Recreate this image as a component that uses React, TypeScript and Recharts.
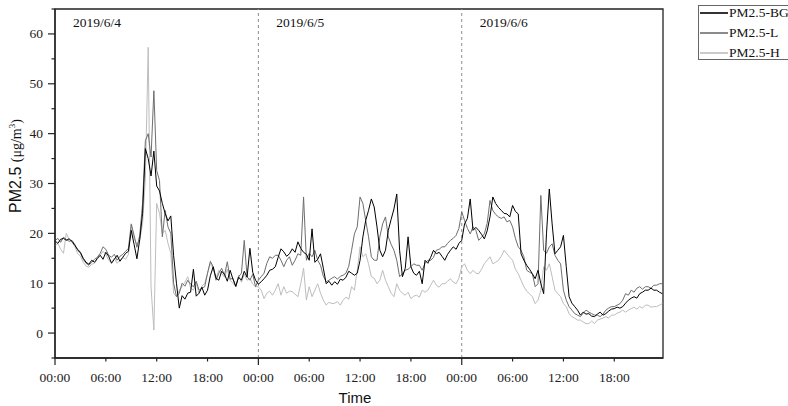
import { Line, LineChart, ReferenceArea, ReferenceLine, XAxis, YAxis } from "recharts";

const SERIF = "'Liberation Serif', 'Times New Roman', serif";
const SANS = "'Liberation Sans', Arial, sans-serif";

// sampling grid: 20-minute readings over three days
const STEP_HOURS = 1 / 3;
const X_MAX = 71.75;

const days = ["2019/6/4", "2019/6/5", "2019/6/6"];
const hourTicks = [0, 6, 12, 18, 24, 30, 36, 42, 48, 54, 60, 66];
const valueTicks = [-5, 0, 5, 10, 15, 20, 25, 30, 35, 40, 45, 50, 55, 60, 65];

const pm25BG = [
  18.5, 18.0, 18.8, 19.0, 18.6, 18.9, 18.4, 17.6, 16.8, 16.2, 15.0, 14.2, 13.8, 14.6, 14.2, 15.0, 15.6, 14.8,
  16.2, 15.4, 14.0, 14.8, 15.6, 14.4, 15.2, 16.0, 16.4, 20.6, 17.8, 14.9, 18.8, 24.0, 37.0, 35.0, 31.5, 36.5,
  29.5, 28.5, 26.0, 24.0, 22.5, 23.5, 15.5, 10.0, 5.0, 7.5, 6.8, 8.0, 8.2, 12.8, 7.4, 8.0, 9.2, 7.6,
  8.6, 11.5, 13.3, 11.0, 10.6, 12.4, 11.8, 10.4, 12.6, 10.8, 9.4, 11.2, 10.6, 12.4, 11.2, 17.0, 12.2, 10.6,
  9.8, 10.3, 10.9, 11.6, 12.6, 12.8, 13.3, 15.2, 16.9, 16.3, 15.4, 15.9, 16.9, 16.2, 18.3, 17.0, 16.2, 15.8,
  14.6, 20.9, 14.2, 14.8, 15.9, 13.0, 9.9, 10.4, 9.6, 10.3, 9.8, 10.8, 10.6, 11.2, 12.4, 12.0, 11.6, 12.0,
  14.6, 19.3, 22.6, 24.6, 26.9, 25.3, 21.3, 16.6, 15.3, 16.6, 20.6, 22.8, 24.9, 27.9, 16.6, 11.3, 13.0, 19.3,
  13.3, 12.0, 11.6, 12.4, 9.9, 14.6, 14.0, 15.2, 16.6, 15.9, 16.2, 15.4, 14.6, 15.8, 16.6, 17.3, 16.8, 18.0,
  18.6, 21.9, 23.0, 26.9, 20.6, 21.2, 20.6, 19.8, 18.9, 20.5, 23.3, 27.3, 26.0, 25.2, 24.6, 24.0, 23.9, 23.3,
  25.6, 24.4, 23.9, 15.9, 14.6, 13.6, 12.8, 11.9, 10.9, 12.6, 9.9, 7.9, 19.9, 28.9, 21.9, 15.9, 16.6, 17.3,
  19.6, 13.3, 7.3, 6.0, 5.3, 4.6, 3.6, 4.2, 3.8, 3.9, 3.4, 3.3, 3.8, 4.2, 3.6, 3.9, 4.4, 4.8,
  4.9, 5.2, 5.0, 5.3, 6.0, 6.6, 7.0, 7.3, 7.0, 7.9, 8.2, 8.6, 8.6, 9.0, 8.6, 8.6, 8.2, 7.9,
];

const pm25L = [
  18.5, 19.0, 18.2, 19.2, 18.8, 18.4, 18.6, 17.8, 16.6, 16.0, 14.8, 14.0, 13.6, 14.2, 14.8, 15.2, 16.0, 17.3,
  16.8, 15.6, 15.2, 15.8, 14.6, 15.4, 15.8, 16.4, 17.0, 21.9, 19.6, 17.2, 19.6, 26.0, 38.6, 40.0, 35.3, 48.6,
  32.6, 30.6, 19.3, 24.6, 21.3, 20.0, 10.0, 7.3, 8.0, 10.0, 9.4, 10.6, 9.8, 9.3, 10.4, 8.6, 9.0, 9.3,
  12.0, 14.4, 13.3, 10.6, 12.0, 13.0, 11.6, 14.3, 10.8, 11.0, 9.3, 11.3, 12.0, 18.6, 11.3, 10.6, 11.8, 9.3,
  10.6, 11.3, 12.0, 14.0, 15.3, 15.0, 15.6, 15.6, 14.6, 13.3, 14.6, 15.3, 13.6, 14.6, 15.9, 15.6, 27.3, 14.6,
  16.0, 15.3, 16.6, 14.6, 13.6, 11.4, 10.3, 10.6, 11.0, 11.3, 10.8, 11.4, 11.6, 12.0, 13.4, 16.6, 19.9, 21.3,
  27.3, 26.0, 22.6, 19.3, 15.3, 14.6, 14.6, 19.3, 21.9, 23.3, 19.3, 17.8, 16.6, 14.6, 11.3, 11.9, 12.6, 12.8,
  13.3, 13.9, 13.6, 13.6, 12.6, 14.0, 14.6, 14.6, 15.2, 16.6, 16.8, 17.3, 17.3, 18.0, 18.6, 19.0, 19.6, 21.0,
  24.3, 22.6, 21.0, 19.9, 21.3, 20.6, 18.6, 19.2, 19.9, 22.0, 26.6, 24.6, 23.8, 23.3, 23.0, 23.3, 22.3, 22.6,
  21.3, 19.0, 17.3, 16.6, 15.3, 12.6, 12.2, 11.9, 9.3, 9.9, 27.6, 16.6, 16.0, 17.3, 17.9, 15.6, 14.6, 13.9,
  8.6, 6.6, 5.3, 4.6, 3.9, 3.6, 3.3, 4.0, 4.6, 4.2, 3.9, 3.6, 3.6, 3.3, 3.8, 4.6, 5.0, 5.3,
  5.3, 5.6, 5.9, 6.6, 7.9, 7.6, 8.6, 8.2, 9.0, 9.3, 8.8, 9.3, 9.3, 9.0, 9.6, 9.6, 9.9, 9.9,
];

const pm25H = [
  17.5, 18.0, 16.8, 16.0, 20.0, 18.8, 18.2, 17.4, 16.0, 15.4, 14.2, 13.4, 13.2, 13.8, 14.0, 14.8, 15.6, 16.4,
  15.8, 14.6, 14.2, 15.0, 14.0, 14.6, 15.2, 14.8, 15.8, 21.6, 19.0, 17.8, 18.6, 22.0, 31.0, 57.3, 9.3, 0.6,
  26.0, 24.0, 20.0, 20.6, 18.0, 16.0, 8.0, 7.3, 8.6, 9.3, 10.2, 11.3, 9.0, 8.6, 10.0, 8.0, 9.4, 10.0,
  12.0, 14.0, 13.0, 11.0, 12.6, 12.0, 11.2, 12.8, 10.6, 10.0, 9.3, 11.6, 10.2, 11.8, 10.6, 11.0, 9.8, 9.3,
  9.3, 8.6, 6.9, 8.0, 8.4, 7.6, 8.6, 9.9, 7.6, 9.3, 8.0, 8.4, 8.3, 7.8, 7.3, 9.9, 13.0, 6.6,
  9.3, 7.3, 8.6, 9.9, 8.0, 6.6, 5.6, 6.2, 5.9, 6.0, 6.3, 5.6, 6.6, 7.2, 6.8, 9.3, 8.6, 12.6,
  17.3, 15.3, 15.9, 13.9, 11.3, 11.0, 9.9, 10.6, 12.6, 10.6, 9.3, 8.0, 7.3, 9.9, 8.6, 8.0, 7.6, 8.2,
  6.9, 7.4, 7.6, 7.2, 8.6, 8.2, 8.6, 9.6, 10.6, 9.6, 9.2, 9.9, 9.9, 10.4, 10.9, 10.2, 9.9, 11.0,
  13.3, 13.9, 12.6, 11.9, 12.6, 12.0, 11.9, 12.8, 13.9, 14.6, 15.3, 13.9, 14.2, 14.6, 15.4, 16.6, 15.9, 15.2,
  14.6, 12.8, 11.9, 10.6, 9.3, 8.4, 7.9, 7.3, 5.9, 6.6, 8.6, 13.3, 12.6, 13.9, 11.3, 8.6, 7.9, 7.3,
  5.9, 5.3, 3.9, 3.3, 3.0, 2.6, 2.6, 2.2, 1.9, 1.9, 2.4, 1.9, 2.6, 2.8, 3.0, 3.3, 3.0, 3.6,
  3.6, 4.0, 4.2, 4.6, 4.2, 4.6, 4.9, 5.2, 4.8, 5.3, 5.0, 5.6, 5.6, 5.2, 5.3, 5.3, 5.6, 5.9,
];

const data = pm25BG.map((bg, i) => ({
  t: i * STEP_HOURS,
  bg,
  l: pm25L[i],
  h: pm25H[i],
}));

// drawn back to front, so the black background series sits on top
const series = [
  { key: "h", name: "PM2.5-H", color: "#bdbdbd" },
  { key: "l", name: "PM2.5-L", color: "#6e6e6e" },
  { key: "bg", name: "PM2.5-BG", color: "#000000" },
];

const AXIS = "#222";

function XTick({ x, y, payload }: any) {
  const v = payload.value as number;
  const isDay = v % 24 === 0;
  const label = String(v % 24).padStart(2, "0") + ":00";
  return (
    <g>
      <line x1={x} x2={x} y1={y} y2={y + (isDay ? 7 : 3.5)} stroke={AXIS} strokeWidth={1.2} />
      <text x={x} y={y + 24} textAnchor="middle" fontFamily={SERIF} fontSize={13.5} fill="#222">
        {label}
      </text>
    </g>
  );
}

function YTick({ x, y, payload }: any) {
  const v = payload.value as number;
  const isMajor = v % 10 === 0;
  return (
    <g>
      <line x1={x} x2={x - (isMajor ? 7 : 3.5)} y1={y} y2={y} stroke={AXIS} strokeWidth={1.2} />
      {isMajor && (
        <text x={x - 12} y={y + 4.5} textAnchor="end" fontFamily={SERIF} fontSize={13.5} fill="#222">
          {v}
        </text>
      )}
    </g>
  );
}

function dayLabel(text: string) {
  return (p: any) => {
    const vb = p.viewBox ?? { x: 0, y: 0 };
    return (
      <text x={vb.x + 18} y={vb.y + 18} fontFamily={SERIF} fontSize={13.5} fill="#111">
        {text}
      </text>
    );
  };
}

export default function App() {
  return (
    <div style={{ position: "absolute", left: 0, top: 0, width: 788, height: 406, background: "#fff" }}>
      <LineChart width={788} height={406} data={data} margin={{ top: 9, right: 125, bottom: 0, left: 0 }}>
        <XAxis
          dataKey="t"
          type="number"
          domain={[0, X_MAX]}
          ticks={hourTicks}
          interval={0}
          tickSize={0}
          tickMargin={0}
          tick={(p: any) => <XTick {...p} />}
          axisLine={{ stroke: AXIS, strokeWidth: 1.3 }}
          height={48}
          allowDataOverflow
        />
        <YAxis
          type="number"
          domain={[-5, 65]}
          ticks={valueTicks}
          interval={0}
          tickSize={0}
          tickMargin={0}
          tick={(p: any) => <YTick {...p} />}
          axisLine={{ stroke: AXIS, strokeWidth: 1.3 }}
          width={55}
          allowDataOverflow
        />
        <ReferenceArea
          x1={0}
          x2={X_MAX}
          y1={-5}
          y2={65}
          fill="none"
          fillOpacity={0}
          stroke={AXIS}
          strokeWidth={1.3}
        />
        {days.map((d, i) => (
          <ReferenceLine
            key={d}
            x={i * 24}
            stroke="#8c8c8c"
            strokeDasharray="3 3"
            strokeOpacity={i === 0 ? 0 : 1}
            label={dayLabel(d)}
          />
        ))}
        {series.map((s) => (
          <Line
            key={s.key}
            dataKey={s.key}
            name={s.name}
            type="linear"
            stroke={s.color}
            strokeWidth={1}
            dot={false}
            activeDot={false}
            isAnimationActive={false}
          />
        ))}
      </LineChart>

      <div
        style={{
          position: "absolute",
          left: 16,
          top: 166,
          transform: "translate(-50%, -50%) rotate(-90deg)",
          whiteSpace: "nowrap",
          lineHeight: "18px",
          color: "#111",
        }}
      >
        <span style={{ fontFamily: SANS, fontSize: 16 }}>PM2.5 </span>
        <span style={{ fontFamily: SERIF, fontSize: 14 }}>
          (μg/m<sup style={{ fontSize: 9, lineHeight: 0 }}>3</sup>)
        </span>
      </div>

      <div
        style={{
          position: "absolute",
          left: 355,
          top: 397,
          transform: "translate(-50%, -50%)",
          fontFamily: SANS,
          fontSize: 15,
          lineHeight: "15px",
          color: "#111",
        }}
      >
        Time
      </div>

      <div
        style={{
          position: "absolute",
          left: 698,
          top: 5,
          width: 92,
          height: 55,
          boxSizing: "border-box",
          border: "1px solid #666",
          background: "#fff",
        }}
      >
        {[...series].reverse().map((s, i) => (
          <div
            key={s.key}
            style={{
              position: "absolute",
              left: 0,
              top: [7.3, 27.3, 46.7][i] - 10,
              height: 20,
              display: "flex",
              alignItems: "center",
            }}
          >
            <svg width={30} height={20} style={{ display: "block" }}>
              <line x1={1} x2={29} y1={10} y2={10} stroke={s.color} strokeWidth={1.6} />
            </svg>
            <span style={{ fontFamily: SERIF, fontSize: 13.5, color: "#111", lineHeight: "20px" }}>{s.name}</span>
          </div>
        ))}
      </div>
    </div>
  );
}
